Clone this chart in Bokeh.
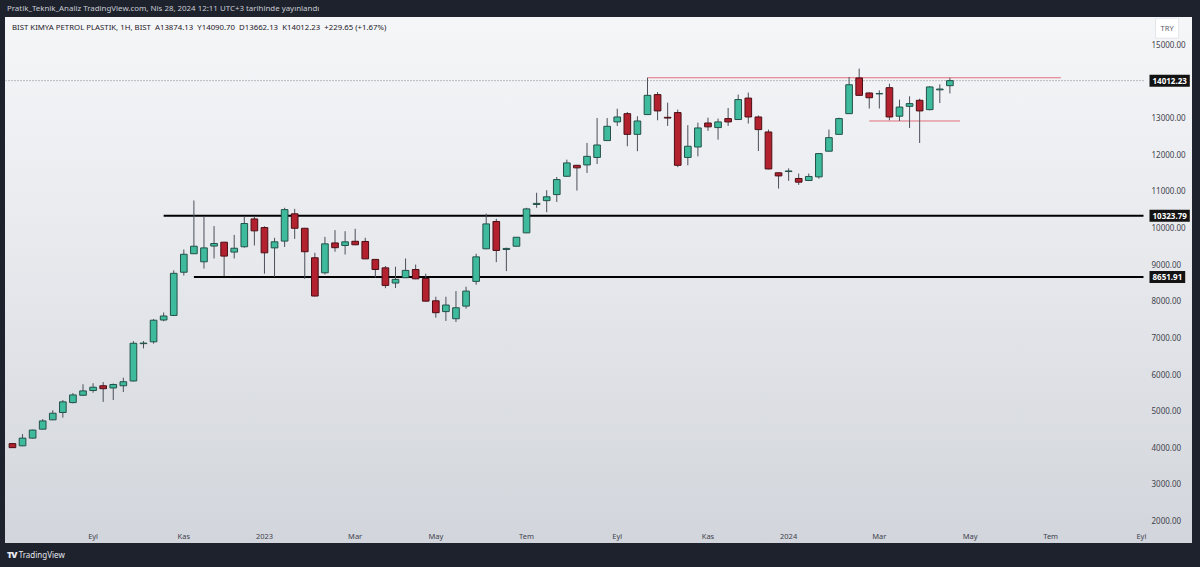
import pandas as pd
from bokeh.plotting import figure
from bokeh.models import Range1d, FixedTicker, Label, Div, PrintfTickFormatter, ColumnDataSource
from bokeh.layouts import column
from bokeh.embed import file_html
from bokeh.resources import INLINE

# ---------------- data ----------------
symbol = "BIST KIMYA PETROL PLASTIK, 1H, BIST"
publish_note = "Pratik_Teknik_Analiz TradingView.com, Nis 28, 2024 12:11 UTC+3 tarihinde yayınlandı"
currency = "TRY"
first_week = "2022-07-11"

opens = [4100, 4040, 4250, 4495, 4750, 4950, 5220, 5420, 5550, 5680,
         5620, 5680, 5810, 6830, 6880, 7475, 7600, 8780, 9285, 9065,
         9495, 9600, 9330, 9475, 10235, 10000, 9445, 9630, 10375, 9980,
         9175, 8765, 9580, 9510, 9625, 9620, 9130, 8900, 8485, 8630,
         8855, 8610, 8000, 7705, 7510, 7855, 8530, 9420, 10165, 9400,
         9490, 9855, 10630, 10735, 10900, 11400, 11700, 11710, 11915, 12375,
         12885, 13110, 12545, 13085, 13630, 13010, 13140, 11915, 12200, 12855,
         12730, 12975, 12950, 13535, 13020, 12610, 11495, 11530, 11340, 11285,
         11385, 12085, 12545, 13110, 14085, 13675, 13650, 13820, 13040, 13310,
         13475, 13220, 13760, 13874.13]
highs = [4110, 4360, 4480, 4770, 5010, 5290, 5480, 5720, 5750, 5780,
         5740, 5900, 6900, 6900, 7500, 7680, 8830, 9400, 10740, 10310,
         10040, 9610, 9800, 10310, 10310, 10035, 9720, 10540, 10510, 9990,
         9310, 9745, 9930, 9900, 9965, 9720, 9140, 8950, 8930, 9155,
         8990, 8740, 8110, 8110, 8265, 8385, 9285, 10380, 10240, 9450,
         9740, 10540, 10950, 11020, 11380, 11855, 11710, 12310, 12990, 12990,
         13245, 13155, 13040, 14092, 13700, 13410, 13220, 12795, 12865, 13000,
         12975, 13265, 13630, 13685, 13060, 12675, 11500, 11615, 11475, 11475,
         12030, 12675, 13000, 14110, 14340, 13690, 13745, 13930, 13490, 13585,
         13520, 13860, 13910, 14090.70]
lows = [3980, 4030, 4240, 4490, 4740, 4810, 5200, 5410, 5490, 5240,
        5290, 5510, 5800, 6700, 6830, 7440, 7590, 8690, 9280, 8880,
        9155, 8670, 9155, 9450, 9510, 8740, 8655, 9470, 9690, 8600,
        8120, 8720, 9340, 9265, 9520, 9140, 8630, 8345, 8350, 8620,
        8590, 7980, 7540, 7450, 7420, 7785, 8440, 9410, 9055, 8810,
        9485, 9850, 10540, 10420, 10700, 11390, 11010, 11490, 11735, 12370,
        12775, 12220, 12085, 13080, 12930, 12775, 11650, 11700, 11945, 12640,
        12400, 12775, 12940, 12840, 12090, 11590, 11065, 11275, 11165, 11270,
        11335, 12080, 12540, 13100, 13600, 13250, 13250, 12930, 12910, 12720,
        12310, 13200, 13400, 13662.13]
closes = [3990, 4250, 4470, 4720, 4930, 5240, 5430, 5540, 5640, 5600,
          5715, 5790, 6840, 6845, 7470, 7585, 8750, 9270, 9490, 9445,
          9565, 9220, 9435, 10110, 9910, 9310, 9610, 10490, 9980, 9340,
          8130, 9555, 9450, 9610, 9530, 9145, 8855, 8420, 8585, 8830,
          8600, 7990, 7675, 7885, 7810, 8265, 9200, 10100, 9375, 9430,
          9735, 10510, 10660, 10840, 11310, 11765, 11630, 11945, 12255, 12765,
          13020, 12545, 12910, 13610, 13185, 12990, 11700, 12220, 12720, 12750,
          12885, 12885, 13495, 13020, 12675, 11600, 11410, 11545, 11240, 11395,
          12020, 12455, 12975, 13900, 13610, 13545, 13660, 13020, 13290, 13385,
          13185, 13840, 13782.58, 14012.23]

tick_dates = ["2022-09-05", "2022-11-07", "2023-01-02", "2023-03-06", "2023-05-01",
              "2023-07-03", "2023-09-04", "2023-11-06", "2024-01-01", "2024-03-04",
              "2024-05-06", "2024-07-01", "2024-09-02"]
tick_labels = ["Eyl", "Kas", "2023", "Mar", "May", "Tem", "Eyl", "Kas", "2024",
               "Mar", "May", "Tem", "Eyl"]
price_ticks = [2000, 3000, 4000, 5000, 6000, 7000, 8000, 9000, 10000,
               11000, 12000, 13000, 15000]

black_levels = [10323.79, 8651.91]
black_starts = ["2022-10-24", "2022-11-14"]
red_levels = [14090.70, 12910.0]
red_starts = ["2023-09-25", "2024-02-26"]
red_ends = ["2024-07-08", "2024-04-29"]

# ---------------- helpers ----------------
t0 = pd.Timestamp(first_week)
def widx(d):
    return (pd.Timestamp(d) - t0).days / 7.0

weeks = pd.date_range(first_week, periods=len(opens), freq="W-MON")
xs = [widx(w) for w in weeks]

GREEN = "#3dbb9c"
RED = "#b3212f"
up = [c >= o for o, c in zip(opens, closes)]
src = ColumnDataSource(dict(
    x=xs, o=opens, h=highs, l=lows, c=closes,
    top=[max(o, c) for o, c in zip(opens, closes)],
    bot=[min(o, c) for o, c in zip(opens, closes)],
    fill=[GREEN if u else RED for u in up],
    edge=["#24514a" if u else "#4b0f16" for u in up],
))

# frame spans the whole light panel; the price scale is drawn inside its right strip
BAR_PX = 10.08
x_start = -0.69
x_range = Range1d(x_start, x_start + 1187 / BAR_PX)
y_range = Range1d(1864, 15736)
pane_right = x_start + 1138 / BAR_PX       # right edge of the candle pane
tag_x = x_start + 1144 / BAR_PX            # left edge of the price tags

p = figure(width=1187, height=526, x_range=x_range, y_range=y_range,
           output_backend="svg", toolbar_location=None, y_axis_location="right",
           min_border_left=0, min_border_top=0, min_border_right=0, min_border_bottom=17)
p.margin = (0, 8, 0, 5)
p.background_fill_alpha = 0
p.border_fill_alpha = 0
p.outline_line_color = None
p.styles = {"background": "linear-gradient(180deg, #f5f6f8 0%, #e7e9ed 45%, #d2d5db 100%)"}
p.xgrid.grid_line_color = None
p.ygrid.grid_line_color = None

# axes
p.yaxis.ticker = FixedTicker(ticks=price_ticks)
p.yaxis.formatter = PrintfTickFormatter(format="%.2f")
p.xaxis.ticker = FixedTicker(ticks=[widx(d) for d in tick_dates])
p.xaxis.major_label_overrides = {widx(d): lab for d, lab in zip(tick_dates, tick_labels)}
for ax in (p.xaxis[0], p.yaxis[0]):
    ax.axis_line_color = None
    ax.major_tick_line_color = None
    ax.minor_tick_line_color = None
    ax.major_tick_out = 0
    ax.minor_tick_out = 0
    ax.major_label_text_color = "#3f434d"
    ax.major_label_text_font = "Noto Sans"
ax = p.yaxis[0]
ax.major_label_text_font_size = "8px"
ax.major_label_standoff = -41
ax = p.xaxis[0]
ax.major_label_text_font_size = "7.5px"
ax.major_label_standoff = 5

# level lines
p.segment(x0=[x_start], y0=[closes[-1]], x1=[pane_right], y1=[closes[-1]],
          line_color="#7d808a", line_width=1, line_dash="1 2")
p.segment(x0=[widx(d) for d in black_starts], y0=black_levels,
          x1=[pane_right] * len(black_levels), y1=black_levels,
          line_color="#000000", line_width=2)
p.segment(x0=[widx(d) for d in red_starts], y0=red_levels,
          x1=[widx(d) for d in red_ends], y1=red_levels,
          line_color="#e2707d", line_width=1)

# candles
p.segment(x0="x", y0="h", x1="x", y1="l", source=src, line_color="#4b4f59", line_width=1)
p.vbar(x="x", width=0.66, top="top", bottom="bot", source=src,
       fill_color="fill", line_color="edge", line_width=1)

# header inside chart
SP = "\u00a0\u00a0"
chg = closes[-1] - closes[-2]
pct = chg / closes[-2] * 100
hdr = (f"{symbol}{SP}A{opens[-1]:.2f}{SP}Y{highs[-1]:.2f}{SP}D{lows[-1]:.2f}{SP}"
       f"K{closes[-1]:.2f}{SP}{chg:+.2f} ({pct:+.2f}%)")
p.add_layout(Label(x=-0.05, y=15470, text=hdr, text_font="Noto Sans",
                   text_font_size="7.8px", text_color="#1e2029", text_baseline="middle"))

# price tags on the scale
for lvl in [closes[-1]] + black_levels:
    p.add_layout(Label(x=tag_x, y=lvl, text=f"{lvl:.2f}", text_font="Noto Sans",
                       text_font_size="8px", text_font_style="bold", text_color="#ffffff",
                       text_baseline="middle", background_fill_color="#131313",
                       padding=3))
p.add_layout(Label(x=tag_x + 0.6, y=15445, text=currency, text_font="Noto Sans",
                   text_font_size="7.5px", text_color="#5d606b", text_baseline="middle",
                   background_fill_color="#ffffff", border_line_color="#e3e5ea",
                   padding=5))

header = Div(text=publish_note, width=1200, height=17, margin=(0, 0, 0, 0),
             styles={"color": "#c9ccd3", "font-family": "Noto Sans", "font-size": "7.9px",
                     "line-height": "17px", "padding-left": "7px", "white-space": "nowrap"})
footer = Div(text='<span style="font-weight:900;font-size:9px;letter-spacing:-1px">TV</span>&nbsp;TradingView',
             width=1200, height=24, margin=(0, 0, 0, 0),
             styles={"color": "#e6e8ee", "font-family": "Noto Sans", "font-size": "8px",
                     "line-height": "24px", "padding-left": "7px", "white-space": "nowrap"})

layout = column(header, p, footer, spacing=0,
                styles={"background-color": "#1e222d"})

open("out.html", "w").write(file_html(layout, INLINE))
